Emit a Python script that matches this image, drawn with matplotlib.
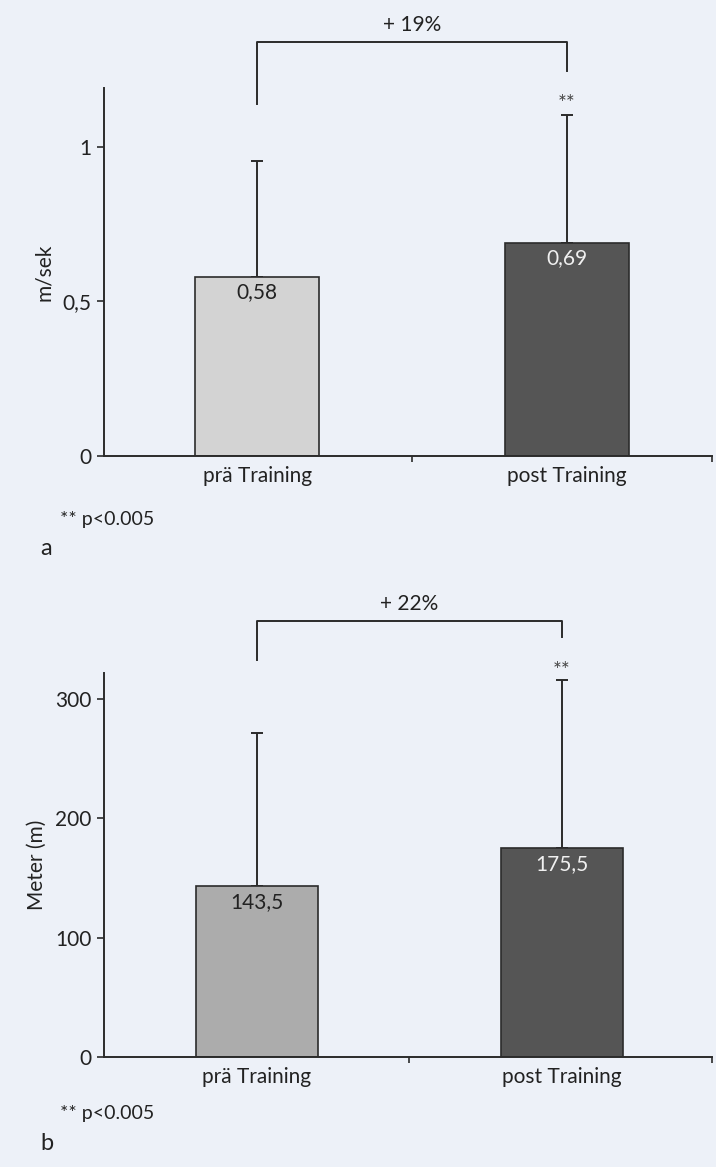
import matplotlib.pyplot as plt
from matplotlib.ticker import FuncFormatter

plt.rcParams['font.family'] = ['Lato', 'DejaVu Sans']

# Gehgeschwindigkeit (a) und Gehstrecke (b), prä vs. post Training
groups = ['prä Training', 'post Training']
speed_mean = [0.58, 0.69]
speed_sd = [0.375, 0.415]
speed_labels = ['0,58', '0,69']
dist_mean = [143.5, 175.5]
dist_sd = [128, 140.5]
dist_labels = ['143,5', '175,5']

bg = '#edf1f8'
edge = '#2b2b2b'
fs = 15

fig = plt.figure(figsize=(7.16, 11.67), dpi=100)
fig.patch.set_facecolor(bg)

ax_a = fig.add_axes([0.1453, 0.6093, 0.849, 0.3153])
ax_b = fig.add_axes([0.1453, 0.0943, 0.849, 0.329])


def comma(v, pos):
    s = ('%g' % v).replace('.', ',')
    return s


def panel(ax, means, sds, labels, colors, txt_colors, ylim, yticks, xlim,
          ylabel, pct, br_top, br_left, br_right, star_y):
    x = [0, 1]
    ax.set_facecolor(bg)
    ax.bar(x, means, width=0.40, color=colors, edgecolor=edge, linewidth=1.2, zorder=2)
    ax.errorbar(x, means, yerr=[[0, 0], sds], fmt='none', ecolor=edge,
                elinewidth=1.4, capsize=4, capthick=1.4, zorder=1)
    ax.set_xlim(*xlim)
    ax.set_ylim(*ylim)
    ax.set_yticks(yticks)
    ax.yaxis.set_major_formatter(FuncFormatter(comma))
    ax.set_xticks(x)
    ax.set_xticklabels(groups, fontsize=fs, color='#222222')
    ax.set_xticks([0.5, xlim[1]], minor=True)
    ax.tick_params(axis='x', which='major', length=0, pad=7)
    ax.tick_params(axis='x', which='minor', length=4, width=1.2, direction='out',
                   colors=edge)
    ax.tick_params(axis='y', length=5, width=1.2, colors=edge, labelsize=fs,
                   labelcolor='#222222', pad=4)
    for side in ['top', 'right']:
        ax.spines[side].set_visible(False)
    for side in ['left', 'bottom']:
        ax.spines[side].set_linewidth(1.4)
        ax.spines[side].set_color(edge)
    ax.set_ylabel(ylabel, fontsize=fs, color='#222222', labelpad=6)

    # Mittelwerte in den Balken
    span = ylim[1] - ylim[0]
    for xi, m, lab, tc in zip(x, means, labels, txt_colors):
        ax.text(xi, m - span * 0.042, lab, ha='center', va='center',
                fontsize=fs, color=tc)

    # Signifikanzklammer
    ax.plot([0, 0, 1, 1], [br_left, br_top, br_top, br_right], color=edge,
            linewidth=1.4, clip_on=False)
    ax.text(0.5, br_top + span * 0.045, pct, ha='center', va='center',
            fontsize=fs, color='#222222', clip_on=False)
    ax.text(1, star_y, '**', ha='center', va='center', fontsize=15,
            color='#444444', clip_on=False)


panel(ax_a, speed_mean, speed_sd, speed_labels,
      ['#d3d3d3', '#555555'], ['#222222', '#f0f0f0'],
      (0, 1.191), [0, 0.5, 1], (-0.494, 1.468), 'm/sek', '+ 19%',
      1.34, 1.139, 1.246, 1.14)

panel(ax_b, dist_mean, dist_sd, dist_labels,
      ['#acacac', '#555555'], ['#222222', '#f0f0f0'],
      (0, 322), [0, 100, 200, 300], (-0.5, 1.493), 'Meter (m)', '+ 22%',
      365.5, 332.8, 352, 324)

fig.text(60 / 716, 1 - 520 / 1167, '** p<0.005', fontsize=14, color='#222222',
         va='center', ha='left')
fig.text(40 / 716, 1 - 548 / 1167, 'a', fontsize=17, color='#222222',
         va='center', ha='left')
fig.text(60 / 716, 1 - 1114 / 1167, '** p<0.005', fontsize=14, color='#222222',
         va='center', ha='left')
fig.text(40 / 716, 1 - 1143 / 1167, 'b', fontsize=17, color='#222222',
         va='center', ha='left')

fig.savefig('out.png', dpi=100, facecolor=bg)
